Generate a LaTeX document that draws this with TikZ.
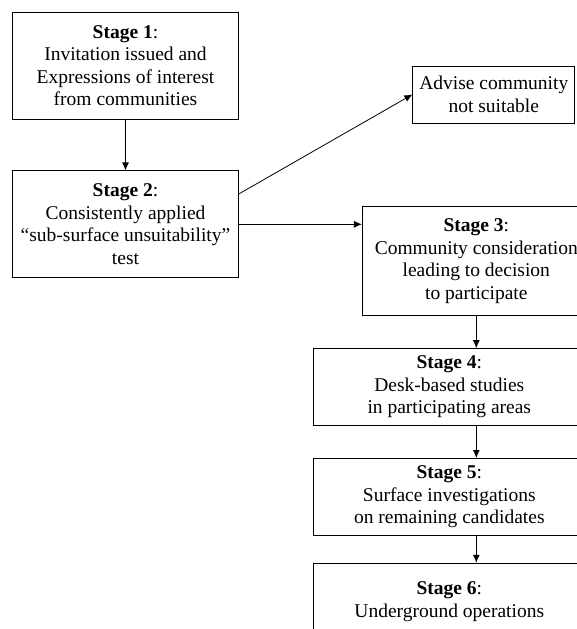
\documentclass[tikz,border=0pt]{standalone}
\usepackage{fontspec}
\setmainfont{Liberation Serif}
\usetikzlibrary{positioning, arrows.meta}

\begin{document}
\begin{tikzpicture}[
    x=1pt, y=1pt,
    node distance=32pt,
    stagebox/.style={rectangle, draw, line width=0.8pt, align=center,
        minimum width=226pt, minimum height=107pt,
        font=\fontsize{19.5}{22.5}\selectfont},
    lowbox/.style={stagebox, minimum width=272pt, minimum height=77pt},
    advbox/.style={stagebox, minimum width=162pt, minimum height=57pt},
    flow/.style={-{Latex[length=8pt, width=7pt]}, line width=0.8pt}
]

% Page frame
\path[fill=white, use as bounding box] (0,0) rectangle (577,-629);

% Left column
\node[stagebox] (s1) at (125.5,-65.5) {\textbf{Stage 1}:\\ Invitation issued and\\ Expressions of interest\\ from communities};
\node[stagebox, below=51pt of s1] (s2) {\textbf{Stage 2}:\\ Consistently applied\\ “sub-surface unsuitability”\\ test};

% Rejection branch
\node[advbox, below right=54pt and 173.5pt of s1.north east] (adv) {Advise community\\ not suitable};

% Right column
\node[stagebox, minimum width=228pt, minimum height=109pt, below right=36pt and 123pt of s2.north east] (s3) {\textbf{Stage 3}:\\ Community consideration\\ leading to decision\\ to participate};
\node[lowbox, below=32pt of s3, xshift=-27pt] (s4) {\textbf{Stage 4}:\\ Desk-based studies\\ in participating areas};
\node[lowbox, below=32pt of s4] (s5) {\textbf{Stage 5}:\\ Surface investigations\\ on remaining candidates};
\node[lowbox, below=27pt of s5] (s6) {\textbf{Stage 6}:\\ Underground operations};

% Connectors
\draw[flow] (s1) -- (s2);
\draw[flow] (s2.15) -- (adv.west);
\draw[flow] (s2.east) -- (s2.east -| s3.west);
\draw[flow] (s3.south) -- (s3.south |- s4.north);
\draw[flow] (s3.south |- s4.south) -- (s3.south |- s5.north);
\draw[flow] (s3.south |- s5.south) -- (s3.south |- s6.north);

\end{tikzpicture}
\end{document}
